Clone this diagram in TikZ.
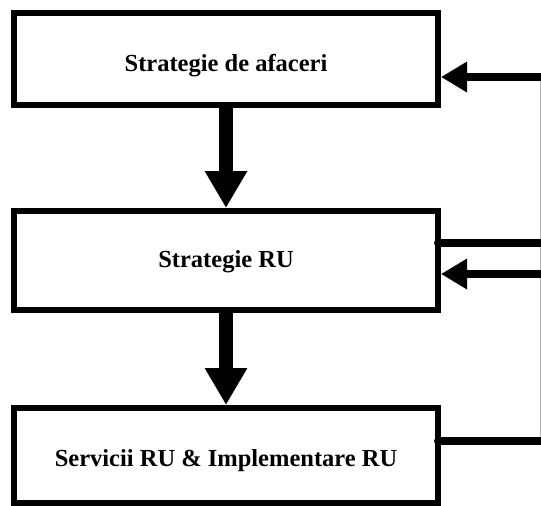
\documentclass[tikz,border=0pt]{standalone}
\usepackage{fontspec}
\setmainfont{Liberation Serif}
\usetikzlibrary{arrows.meta,calc}

\tikzset{
  stage/.style={draw=black, line width=6pt, rectangle, minimum width=424pt, inner sep=0pt},
  caption/.style={font=\bfseries\fontsize{24.5}{29}\selectfont, inner sep=0pt},
  downflow/.style={line width=14pt, -{Triangle[length=37pt,width=40pt]}},
  feedin/.style={line width=8pt, -{Triangle[length=26pt,width=29pt]}},
  feedout/.style={line width=8pt, line cap=round},
  rail/.style={draw=black!30, line width=1pt}
}

\begin{document}
\begin{tikzpicture}[x=1pt,y=-1pt]
  \useasboundingbox (0,0) rectangle (541,506);

  % the three stages
  \node[stage, minimum height=92pt] (afaceri) at (226,59) {};
  \node[stage, minimum height=99pt] (ru) at (226,260.5) {};
  \node[stage, minimum height=95pt] (servicii) at (226,455.5) {};

  % their titles, set a little below centre
  \node[caption] (afaceri-t) at ($(afaceri)+(0,7)$) {Strategie de afaceri};
  \node[caption] (ru-t) at ($(ru)+(0,1)$) {Strategie RU};
  \node[caption] (servicii-t) at ($(servicii)+(0,5)$) {Servicii RU \& Implementare RU};

  % points on the right edge where the feedback lines meet
  \coordinate (r1) at (541,77);
  \coordinate (c2) at (541,243);
  \coordinate (r2) at (541,274);
  \coordinate (c3) at (541,441);

  % top-down flow
  \draw[downflow] (afaceri.south) -- (ru.north);
  \draw[downflow] (ru.south) -- (servicii.north);

  % feedback rail along the right edge
  \draw[rail] ($(r1)+(-1,0)$) -- ($(c3)+(-1,0)$);

  % lines leaving the lower stages
  \draw[feedout] ($(ru.east |- c2)+(-3,0)$) -- (c2);
  \draw[feedout] ($(servicii.east |- c3)+(-3,0)$) -- (c3);

  % arrows returning to the upper stages
  \draw[feedin] (r1) -- (afaceri.east |- r1);
  \draw[feedin] (r2) -- (ru.east |- r2);
\end{tikzpicture}
\end{document}
